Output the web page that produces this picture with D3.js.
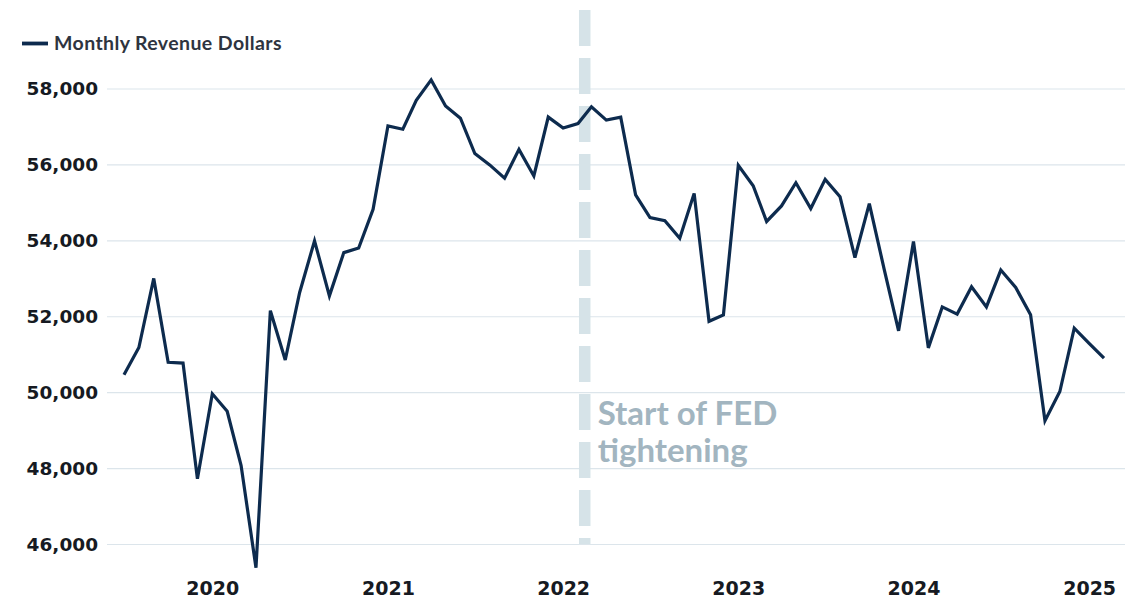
<!DOCTYPE html>
<html>
<head>
<meta charset="utf-8">
<script src="https://cdn.jsdelivr.net/npm/d3@7"></script>
<style>
	body { margin: 0; background: #fff; }
	svg { display: block; }
</style>
</head>
<body>
<div id="chart"></div>
<script>

// Months (first of month), Jul 2019 - Feb 2025
var months = [
	"2019-07", "2019-08", "2019-09", "2019-10", "2019-11", "2019-12",
	"2020-01", "2020-02", "2020-03", "2020-04", "2020-05", "2020-06", "2020-07", "2020-08", "2020-09", "2020-10", "2020-11", "2020-12",
	"2021-01", "2021-02", "2021-03", "2021-04", "2021-05", "2021-06", "2021-07", "2021-08", "2021-09", "2021-10", "2021-11", "2021-12",
	"2022-01", "2022-02", "2022-03", "2022-04", "2022-05", "2022-06", "2022-07", "2022-08", "2022-09", "2022-10", "2022-11", "2022-12",
	"2023-01", "2023-02", "2023-03", "2023-04", "2023-05", "2023-06", "2023-07", "2023-08", "2023-09", "2023-10", "2023-11", "2023-12",
	"2024-01", "2024-02", "2024-03", "2024-04", "2024-05", "2024-06", "2024-07", "2024-08", "2024-09", "2024-10", "2024-11", "2024-12",
	"2025-01", "2025-02"
];

var revenue = [
	50470, 51190, 53010, 50800, 50780, 47730,
	49970, 49510, 48080, 45390, 52160, 50860, 52640, 54000, 52550, 53690, 53810, 54830,
	57030, 56940, 57700, 58240, 57550, 57230, 56300, 56000, 55650, 56410, 55710, 57260,
	56970, 57090, 57530, 57180, 57260, 55210, 54610, 54530, 54070, 55250, 51880, 52050,
	55990, 55450, 54510, 54920, 55530, 54850, 55620, 55160, 53560, 54980, 53250, 51630,
	53980, 51180, 52260, 52070, 52790, 52260, 53230, 52770, 52050, 49260, 50030, 51700,
	51300, 50910
];

var yTicks = [46000, 48000, 50000, 52000, 54000, 56000, 58000];
var xTicks = ["2020-01", "2021-01", "2022-01", "2023-01", "2024-01", "2025-01"];
var fedDate = "2022-02-15";
var seriesName = "Monthly Revenue Dollars";
var noteLines = ["Start of FED", "tightening"];

var parseMonth = d3.timeParse("%Y-%m");
var parseDay = d3.timeParse("%Y-%m-%d");

var data = months.map(function(m, i) {
	return {date: parseMonth(m), value: revenue[i]};
});

var w = 1140;
var h = 604;

var x = d3.scaleTime()
			.domain([parseMonth(months[0]), parseMonth(months[months.length - 1])])
			.range([124, 1104]);

var y = d3.scaleLinear()
			.domain([46000, 58000])
			.range([544.5, 89]);

var svg = d3.select("#chart")
			.append("svg")
			.attr("width", w)
			.attr("height", h);

// Gridlines
svg.append("g")
	.selectAll("line")
	.data(yTicks)
	.enter()
	.append("line")
	.attr("x1", 107)
	.attr("x2", 1125)
	.attr("y1", function(d) { return y(d); })
	.attr("y2", function(d) { return y(d); })
	.attr("stroke", "#dce5eb")
	.attr("stroke-width", 1.2);

// Y axis labels
var yAxis = svg.append("g")
			.attr("transform", "translate(98,0)")
			.call(d3.axisLeft(y).tickValues(yTicks).tickSize(0).tickPadding(0).tickFormat(d3.format(",")));
yAxis.select(".domain").remove();
yAxis.selectAll("text")
	.attr("font-family", "DejaVu Sans, sans-serif")
	.attr("font-weight", "bold")
	.attr("font-size", "18.5px")
	.attr("fill", "#161a22");

// X axis labels
var xAxis = svg.append("g")
			.attr("transform", "translate(0,581)")
			.call(d3.axisBottom(x).tickValues(xTicks.map(parseMonth)).tickSize(0).tickPadding(0).tickFormat(d3.timeFormat("%Y")));
xAxis.select(".domain").remove();
xAxis.selectAll("text")
	.attr("font-family", "DejaVu Sans, sans-serif")
	.attr("font-weight", "bold")
	.attr("font-size", "19px")
	.attr("fill", "#161a22");

// Fed marker
svg.append("line")
	.attr("x1", x(parseDay(fedDate)))
	.attr("x2", x(parseDay(fedDate)))
	.attr("y1", 10)
	.attr("y2", 544)
	.attr("stroke", "#d6e3e8")
	.attr("stroke-width", 11.5)
	.attr("stroke-dasharray", "36 12");

svg.append("g")
	.selectAll("text")
	.data(noteLines)
	.enter()
	.append("text")
	.text(function(d) { return d; })
	.attr("x", x(parseDay(fedDate)) + 13)
	.attr("y", function(d, i) { return 425 + i * 36.5; })
	.attr("font-family", "Lato, sans-serif")
	.attr("font-weight", "bold")
	.attr("font-size", "33px")
	.attr("fill", "#a2b5c0");

// Revenue line
var line = d3.line()
			.x(function(d) { return x(d.date); })
			.y(function(d) { return y(d.value); });

svg.append("path")
	.datum(data)
	.attr("d", line)
	.attr("fill", "none")
	.attr("stroke", "#0d2b4e")
	.attr("stroke-width", 3.2);

// Legend
svg.append("line")
	.attr("x1", 22)
	.attr("x2", 48)
	.attr("y1", 43.5)
	.attr("y2", 43.5)
	.attr("stroke", "#0d2b4e")
	.attr("stroke-width", 3.8);

svg.append("text")
	.text(seriesName)
	.attr("x", 54)
	.attr("y", 49.5)
	.attr("font-family", "Lato, sans-serif")
	.attr("font-weight", "bold")
	.attr("font-size", "19.5px")
	.attr("letter-spacing", "0.4px")
	.attr("fill", "#2e3440");

</script>
</body>
</html>
